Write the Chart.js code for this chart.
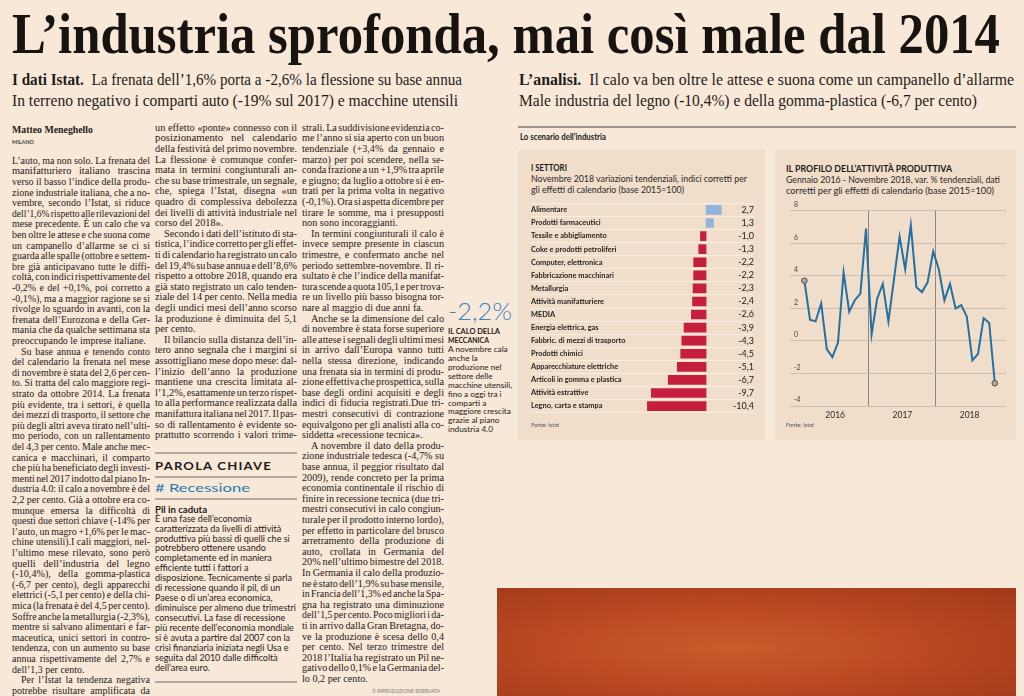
<!DOCTYPE html>
<html><head><meta charset="utf-8">
<script src="https://cdn.jsdelivr.net/npm/chart.js@4.4.1/dist/chart.umd.min.js"></script>
<style>
html,body{margin:0;padding:0;width:1024px;height:696px;overflow:hidden;background:#f8e8d8;}
.t{position:absolute;white-space:pre;transform-origin:0 50%;color:#1f1b18;line-height:1;left:0;top:0;}
.box{position:absolute;}
</style></head><body>
<div class="box" style="left:518px;top:150px;width:247px;height:290px;background:#f0ddca"></div>
<div class="box" style="left:775px;top:150px;width:241px;height:290px;background:#f0ddca"></div>
<div class="box" style="left:518px;top:126px;width:498px;height:2px;background:#9d948c"></div>
<div class="box" style="left:155px;top:452px;width:142px;height:1.5px;background:#b3a89e"></div>
<div class="box" style="left:155px;top:476px;width:142px;height:1.5px;background:#b3a89e"></div>
<div class="box" style="left:155px;top:498px;width:142px;height:1.5px;background:#b3a89e"></div>
<div class="box" style="left:155px;top:681px;width:142px;height:1.5px;background:#b3a89e"></div>
<div class="box" style="left:497px;top:588px;width:519px;height:108px;background:radial-gradient(ellipse at 45% 55%, #c95b2c 0%, #bb4a22 45%, #a2381a 100%)"></div>
<div class="box" style="left:531px;top:198px;width:223px;height:220px"><canvas id="bars" width="223" height="220"></canvas></div>
<div class="box" style="left:785px;top:198px;width:226px;height:226px"><canvas id="line" width="226" height="226"></canvas></div>
<script>
// ---------- DATA ----------
const sectors = ['Alimentare','Prodotti farmaceutici','Tessile e abbigliamento','Coke e prodotti petroliferi','Computer, elettronica','Fabbricazione macchinari','Metallurgia','Attività manifatturiere','MEDIA','Energia elettrica, gas','Fabbric. di mezzi di trasporto','Prodotti chimici','Apparecchiature elettriche','Articoli in gomma e plastica','Attività estrattive','Legno, carta e stampa'];
const sectorValues = [2.7,1.3,-1.0,-1.3,-2.2,-2.2,-2.3,-2.4,-2.6,-3.9,-4.3,-4.5,-5.1,-6.7,-9.7,-10.4];
const months = ['gen 2016','feb','mar','apr','mag','giu','lug','ago','set','ott','nov','dic','gen 2017','feb','mar','apr','mag','giu','lug','ago','set','ott','nov','dic','gen 2018','feb','mar','apr','mag','giu','lug','ago','set','ott','nov'];
const productionValues = [3.7,1.3,1.2,2.3,-0.5,-1.0,-0.1,4.2,1.8,2.5,2.9,6.9,0.4,2.6,3.5,1.2,3.8,6.4,4.4,7.1,3.3,3.0,3.6,5.5,4.4,2.5,3.5,2.0,2.2,1.5,-1.2,-0.8,1.4,1.1,-2.6];
const yearLabels = ['2016','2017','2018'];
const yTickValues = [-4,-2,0,2,4,6,8];

// ---------- TEXT HELPERS ----------
function mk(html,font){const d=document.createElement('div');d.className='t';d.style.font=font;d.style.lineHeight='1';d.innerHTML=html;document.body.appendChild(d);return d;}
function put(html,x,y,font,o={}){
  const d=mk(html,font);
  if(o.color)d.style.color=o.color;
  if(o.ls)d.style.letterSpacing=o.ls;
  const r=d.getBoundingClientRect();
  let sx=o.sx||1; if(o.w) sx=o.w/r.width;
  d.style.transform='scaleX('+sx+')';
  d.style.top=(y-r.height/2)+'px';
  d.style.left=(o.align==='right'?x-r.width*sx:x)+'px';
  return d;
}
function column(lines,x,y0,w,lh,font,indent){
  const items=lines.map(s=>{let ind=s.startsWith('>');if(ind)s=s.slice(1);let last=s.endsWith('|');if(last)s=s.slice(0,-1);
    const d=mk('',font);d.textContent=s;const r=d.getBoundingClientRect();return {d,s,ind,last,w:r.width,h:r.height};});
  const ratios=items.filter(it=>!it.last).map(it=>(w-(it.ind?indent:0))/it.w).sort((a,b)=>a-b);
  const s=ratios.length?ratios[Math.floor(ratios.length/2)]:0.88;
  items.forEach((it,i)=>{
    const target=w-(it.ind?indent:0);let sx=s;
    if(!it.last){const sp=(it.s.match(/ /g)||[]).length;let ws=sp?(target/s-it.w)/sp:0;ws=Math.max(-1.2,Math.min(5,ws));it.d.style.wordSpacing=ws+'px';sx=target/it.d.getBoundingClientRect().width;}
    it.d.style.transform='scaleX('+sx+')';
    it.d.style.left=(x+(it.ind?indent:0))+'px';
    it.d.style.top=(y0+i*lh-it.h/2)+'px';
  });
}
function ragged(lines,x,y0,lh,font,maxW,o={}){
  const ds=lines.map(s=>{const d=mk('',font);d.textContent=s;if(o.color)d.style.color=o.color;return d;});
  const mw=Math.max(...ds.map(d=>d.getBoundingClientRect().width));const sx=maxW/mw;
  ds.forEach((d,i)=>{const h=d.getBoundingClientRect().height;d.style.transform='scaleX('+sx+')';d.style.left=x+'px';d.style.top=(y0+i*lh-h/2)+'px';});
}

// ---------- HEADLINES ----------
const SER="'Liberation Serif', 'DejaVu Serif', serif";
const SANS="Lato, 'Open Sans', sans-serif";
put('L’industria sprofonda, mai così male dal 2014',12,33,"bold 57px "+SER,{w:988,color:'#161311'});
put('<b>I dati Istat.</b>  La frenata dell’1,6% porta a -2,6% la flessione su base annua',12,80,"16px "+SER,{w:450});
put('In terreno negativo i comparti auto (-19% sul 2017) e macchine utensili',12,101,"16px "+SER,{w:446});
put('<b>L’analisi.</b>  Il calo va ben oltre le attese e suona come un campanello d’allarme',519,80,"16px "+SER,{w:495});
put('Male industria del legno (-10,4%) e della gomma-plastica (-6,7 per cento)',519,101,"16px "+SER,{w:458});

// ---------- BODY ----------
put('Matteo Meneghello',12,130,"bold 10px "+SER,{w:81});
put('MILANO',12,141.5,"bold 6px "+SANS,{w:22,color:'#444'});
const BF="10.3px "+SER, LH=10.6;
const col1=['L’auto, ma non solo. La frenata del','manifatturiero italiano trascina','verso il basso l’indice della produ-','zione industriale italiana, che a no-','vembre, secondo l’Istat, si riduce','dell’1,6% rispetto alle rilevazioni del','mese precedente. È un calo che va','ben oltre le attese e che suona come','un campanello d’allarme se ci si','guarda alle spalle (ottobre e settem-','bre già anticipavano tutte le diffi-','coltà, con indici rispettivamente del','-0,2% e del +0,1%, poi corretto a','-0,1%), ma a maggior ragione se si','rivolge lo sguardo in avanti, con la','frenata dell’Eurozona e della Ger-','mania che da qualche settimana sta','preoccupando le imprese italiane.|','>Su base annua e tenendo conto','del calendario la frenata nel mese','di novembre è stata del 2,6 per cen-','to. Si tratta del calo maggiore regi-','strato da ottobre 2014. La frenata','più evidente, tra i settori, è quella','dei mezzi di trasporto, il settore che','più degli altri aveva tirato nell’ulti-','mo periodo, con un rallentamento','del 4,3 per cento. Male anche mec-','canica e macchinari, il comparto','che più ha beneficiato degli investi-','menti nel 2017 indotto dal piano In-','dustria 4.0: il calo a novembre è del','2,2 per cento. Già a ottobre era co-','munque emersa la difficoltà di','questi due settori chiave (-14% per','l’auto, un magro +1,6% per le mac-','chine utensili).I cali maggiori, nel-','l’ultimo mese rilevato, sono però','quelli dell’industria del legno','(-10,4%), della gomma-plastica','(-6,7 per cento), degli apparecchi','elettrici (-5,1 per cento) e della chi-','mica (la frenata è del 4,5 per cento).','Soffre anche la metallurgia (-2,3%),','mentre si salvano alimentari e far-','maceutica, unici settori in contro-','tendenza, con un aumento su base','annua rispettivamente del 2,7% e','dell’1,3 per cento.|','>Per l’Istat la tendenza negativa','potrebbe risultare amplificata da'];
column(col1,12,161,138,LH,BF,9);
const col2=['un effetto «ponte» connesso con il','posizionamento nel calendario','della festività del primo novembre.','La flessione è comunque confer-','mata in termini congiunturali an-','che su base trimestrale, un segnale,','che, spiega l’Istat, disegna «un','quadro di complessiva debolezza','dei livelli di attività industriale nel','corso del 2018».|','>Secondo i dati dell’istituto di sta-','tistica, l’indice corretto per gli effet-','ti di calendario ha registrato un calo','del 19,4% su base annua e dell’8,6%','rispetto a ottobre 2018, quando era','già stato registrato un calo tenden-','ziale del 14 per cento. Nella media','degli undici mesi dell’anno scorso','la produzione è diminuita del 5,1','per cento.|','>Il bilancio sulla distanza dell’in-','tero anno segnala che i margini si','assottigliano mese dopo mese: dal-','l’inizio dell’anno la produzione','mantiene una crescita limitata al-','l’1,2%, esattamente un terzo rispet-','to alla performance realizzata dalla','manifattura italiana nel 2017. Il pas-','so di rallentamento è evidente so-','prattutto scorrendo i valori trime-'];
column(col2,155,128,142,LH,BF,9);
const col3=['strali. La suddivisione evidenzia co-','me l’anno si sia aperto con un buon','tendenziale (+3,4% da gennaio e','marzo) per poi scendere, nella se-','conda frazione a un +1,9% tra aprile','e giugno; da luglio a ottobre si è en-','trati per la prima volta in negativo','(-0,1%). Ora si aspetta dicembre per','tirare le somme, ma i presupposti','non sono incoraggianti.|','>In termini congiunturali il calo è','invece sempre presente in ciascun','trimestre, e confermato anche nel','periodo settembre-novembre. Il ri-','sultato è che l’indice della manifat-','tura scende a quota 105,1 e per trova-','re un livello più basso bisogna tor-','nare al maggio di due anni fa.|','>Anche se la dimensione del calo','di novembre è stata forse superiore','alle attese i segnali degli ultimi mesi','in arrivo dall’Europa vanno tutti','nella stessa direzione, indicando','una frenata sia in termini di produ-','zione effettiva che prospettica, sulla','base degli ordini acquisiti e degli','indici di fiducia registrati.Due tri-','mestri consecutivi di contrazione','equivalgono per gli analisti alla co-','siddetta «recessione tecnica».|','>A novembre il dato della produ-','zione industriale tedesca (-4,7% su','base annua, il peggior risultato dal','2009), rende concreto per la prima','economia continentale il rischio di','finire in recessione tecnica (due tri-','mestri consecutivi in calo congiun-','turale per il prodotto interno lordo),','per effetto in particolare del brusco','arretramento della produzione di','auto, crollata in Germania del','20% nell’ultimo bimestre del 2018.','In Germania il calo della produzio-','ne è stato dell’1,9% su base mensile,','in Francia dell’1,3% ed anche la Spa-','gna ha registrato una diminuzione','dell’1,5 per cento. Poco migliori i da-','ti in arrivo dalla Gran Bretagna, do-','ve la produzione è scesa dello 0,4','per cento. Nel terzo trimestre del','2018 l’Italia ha registrato un Pil ne-','gativo dello 0,1% e la Germania del-','lo 0,2 per cento.|'];
column(col3,302,128,142,LH,BF,9);
put('© RIPRODUZIONE RISERVATA',372,691,"5px "+SANS,{w:68,color:'#777'});

// Parola chiave
put('PAROLA CHIAVE',155,465,"bold 11px "+SANS,{w:117,ls:'1px'});
put('# Recessione',155,487.5,"12px "+SANS,{w:95,color:'#2a78b2'});
put('Pil in caduta',155,509,"bold 9px "+SANS,{w:52});
ragged(['È una fase dell’economia','caratterizzata da livelli di attività','produttiva più bassi di quelli che si','potrebbero ottenere usando','completamente ed in maniera','efficiente tutti i fattori a','disposizione. Tecnicamente si parla','di recessione quando il pil, di un','Paese o di un’area economica,','diminuisce per almeno due trimestri','consecutivi. La fase di recessione','più recente dell’economia mondiale','si è avuta a partire dal 2007 con la','crisi finanziaria iniziata negli Usa e','seguita dal 2010 dalle difficoltà','dell’area euro.'],155,519,9.95,"8.8px "+SANS,141);

// Sidebar
put('-2,2%',448,311,"300 23px "+SANS,{w:64,color:'#3a86c2'});
put('IL CALO DELLA',448,331.7,"bold 7.6px "+SANS,{w:52});
put('MECCANICA',448,340.7,"bold 7.6px "+SANS,{w:41});
ragged(['A novembre cala','anche la','produzione nel','settore delle','macchine utensili,','fino a oggi tra i','comparti a','maggiore crescita','grazie al piano','industria 4.0'],448,350,8.9,"7.8px "+SANS,64);

// Panels text
put('Lo scenario dell’industria',520,137.5,"bold 8.5px "+SANS,{w:86});
put('I SETTORI',531,168,"bold 8.5px "+SANS,{w:36});
put('Novembre 2018 variazioni tendenziali, indici corretti per',531,179.5,"8.8px "+SANS,{w:216,color:'#2b2825'});
put('gli effetti di calendario (base 2015=100)',531,190.5,"8.8px "+SANS,{w:153,color:'#2b2825'});
put('Fonte: Istat',531,426,"5.5px "+SANS,{w:28,color:'#555'});
put('IL PROFILO DELL’ATTIVITÀ PRODUTTIVA',786,169,"bold 8.5px "+SANS,{w:166});
put('Gennaio 2016 - Novembre 2018, var. % tendenziali, dati',786,180.5,"8.8px "+SANS,{w:214,color:'#2b2825'});
put('corretti per gli effetti di calendario (base 2015=100)',786,191.5,"8.8px "+SANS,{w:208,color:'#2b2825'});
put('Fonte: Istat',786,426,"5.5px "+SANS,{w:28,color:'#555'});

// ---------- CHARTS ----------
Chart.defaults.font.family="Lato, 'Open Sans', sans-serif";
Chart.defaults.animation=false;
const valueLabels=sectorValues.map(v=>v.toFixed(1).replace('.',','));
new Chart(document.getElementById('bars'),{
  type:'bar',
  data:{labels:sectors,datasets:[{data:sectorValues,yAxisID:'y',barThickness:9,
    backgroundColor:sectorValues.map(v=>v>=0?'#8fb6d8':'#c61f3e')}]},
  options:{indexAxis:'y',responsive:false,animation:false,
    layout:{padding:{top:2,bottom:2,left:0,right:0}},
    plugins:{legend:{display:false},tooltip:{enabled:false}},
    scales:{
      x:{display:false,min:-11,max:3},
      y:{position:'left',offset:true,
        grid:{offset:true,color:'#f8ede2',lineWidth:1,tickLength:113,drawTicks:true},
        border:{display:false},
        ticks:{crossAlign:'far',autoSkip:false,padding:0,color:'#241f1c',font:{size:7.4,weight:'bold'}},
        afterFit:s=>{s.width=113;}},
      y2:{type:'category',labels:valueLabels,position:'right',offset:true,
        grid:{offset:true,color:'#f8ede2',lineWidth:1,tickLength:31,drawOnChartArea:false},
        border:{display:false},
        ticks:{crossAlign:'far',autoSkip:false,padding:0,color:'#1f1b18',font:{size:9}},
        afterFit:s=>{s.width=31;}}
    }}
});
const xMid=yearLabels.map((y,k)=>12*k+5.5);
const xDiv=[11.5,23.5];
new Chart(document.getElementById('line'),{
  type:'line',
  data:{labels:months,datasets:[{data:productionValues.map((v,i)=>({x:i,y:v})),
    borderColor:'#2470a3',borderWidth:2,tension:0,fill:false,
    pointRadius:productionValues.map((v,i)=>(i===0||i===productionValues.length-1)?2.8:0),
    pointBackgroundColor:'#b3aaa0',pointBorderColor:'#4a4a4a',pointBorderWidth:1}]},
  options:{responsive:false,animation:false,
    layout:{padding:{top:12.7,bottom:4,left:0,right:1}},
    plugins:{legend:{display:false},tooltip:{enabled:false}},
    scales:{
      x:{type:'linear',min:-2.57,max:36,
        afterBuildTicks:s=>{s.ticks=[...xMid,...xDiv].sort((a,b)=>a-b).map(v=>({value:v}));},
        ticks:{autoSkip:false,maxRotation:0,padding:4,color:'#2b2825',font:{size:8.5},
          callback:v=>{const k=xMid.indexOf(v);return k>=0?yearLabels[k]:'';}},
        grid:{drawTicks:false,color:c=>(c.tick&&xDiv.includes(c.tick.value))?'#8d857d':'rgba(0,0,0,0)',lineWidth:1},
        border:{display:false},
        afterFit:s=>{s.height=14;}},
      y:{min:-4,max:8,
        afterBuildTicks:s=>{s.ticks=yTickValues.map(v=>({value:v}));},
        ticks:{mirror:true,padding:4,labelOffset:-6,color:'#4a4542',font:{size:7}},
        grid:{drawTicks:false,color:'#c9beb3',lineWidth:1},
        border:{display:false},
        afterFit:s=>{s.width=0;}}
    }}
});
</script>
</body></html>
